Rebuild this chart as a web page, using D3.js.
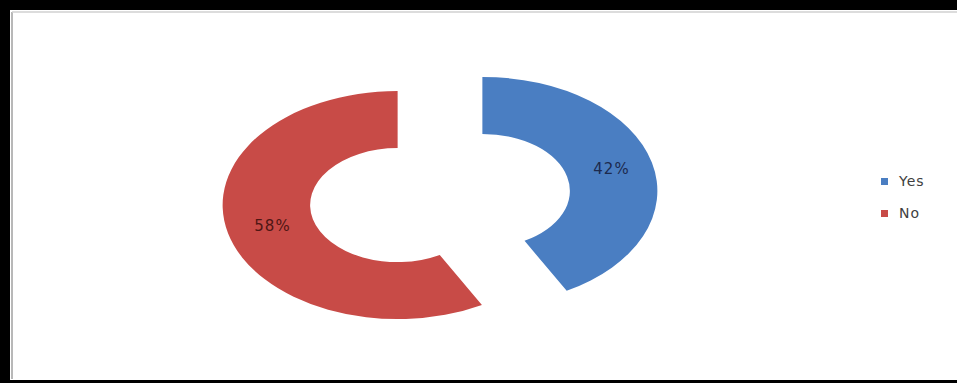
<!DOCTYPE html>
<html>
<head>
<meta charset="utf-8">
<script src="https://cdn.jsdelivr.net/npm/d3@7"></script>
<style>
  html, body { margin: 0; padding: 0; background: #fff; }
  svg { display: block; }
</style>
</head>
<body>
<svg id="chart" width="957" height="383"></svg>
<script>
const categories = ["Yes", "No"];
const values = [42, 58];
const labels = ["42%", "58%"];
const colors = ["#4A7EC2", "#C84B47"];
const labelColors = ["#1c2a4e", "#4e1614"];

const W = 957, H = 383;
const svg = d3.select("#chart");

// frame
svg.append("rect").attr("x", 0).attr("y", 0).attr("width", W).attr("height", H).attr("fill", "#000");
svg.append("rect").attr("x", 10).attr("y", 10).attr("width", W - 10).attr("height", H - 13).attr("fill", "#fff");
svg.append("line").attr("x1", 12).attr("y1", 12).attr("x2", 12).attr("y2", H - 4)
  .attr("stroke", "#b8b8b8").attr("stroke-width", 2);
svg.append("line").attr("x1", 12).attr("y1", 12).attr("x2", W).attr("y2", 12)
  .attr("stroke", "#d0d0d0").attr("stroke-width", 1.5);

// doughnut geometry (drawn as circle then squashed vertically)
const cx = 440, cy = 198;
const rx = 175, ry = 114;
const innerFrac = 0.5;
const explode = 0.25 * rx;

const pie = d3.pie().sort(null).value(d => d)(values);
const arc = d3.arc().innerRadius(rx * innerFrac).outerRadius(rx);

const g = svg.append("g").attr("transform", `translate(${cx},${cy}) scale(1,${ry / rx})`);

pie.forEach((p, i) => {
  const mid = (p.startAngle + p.endAngle) / 2;
  const ox = Math.sin(mid) * explode, oy = -Math.cos(mid) * explode;
  g.append("path")
    .attr("d", arc(p))
    .attr("transform", `translate(${ox},${oy})`)
    .attr("fill", colors[i]);
});

// labels at slice centroids (mapped to squashed coordinates)
pie.forEach((p, i) => {
  const mid = (p.startAngle + p.endAngle) / 2;
  const ox = Math.sin(mid) * explode, oy = -Math.cos(mid) * explode;
  const c = arc.centroid(p);
  const lx = cx + ox + c[0];
  const ly = cy + (oy + c[1]) * ry / rx;
  svg.append("text")
    .attr("x", lx + 2).attr("y", ly)
    .attr("text-anchor", "middle")
    .attr("dominant-baseline", "middle")
    .attr("font-family", "DejaVu Sans, Verdana, sans-serif")
    .attr("font-size", 15)
    .attr("letter-spacing", 1)
    .attr("fill", labelColors[i])
    .text(labels[i]);
});

// legend
const legend = svg.append("g").attr("transform", "translate(881,178)");
categories.forEach((c, i) => {
  const row = legend.append("g").attr("transform", `translate(0,${i * 32})`);
  row.append("rect").attr("width", 7).attr("height", 7).attr("fill", colors[i]);
  row.append("text")
    .attr("x", 18).attr("y", 8)
    .attr("font-family", "DejaVu Sans, Verdana, sans-serif")
    .attr("font-size", 14)
    .attr("letter-spacing", 1)
    .attr("fill", "#404040")
    .text(c);
});
</script>
</body>
</html>
